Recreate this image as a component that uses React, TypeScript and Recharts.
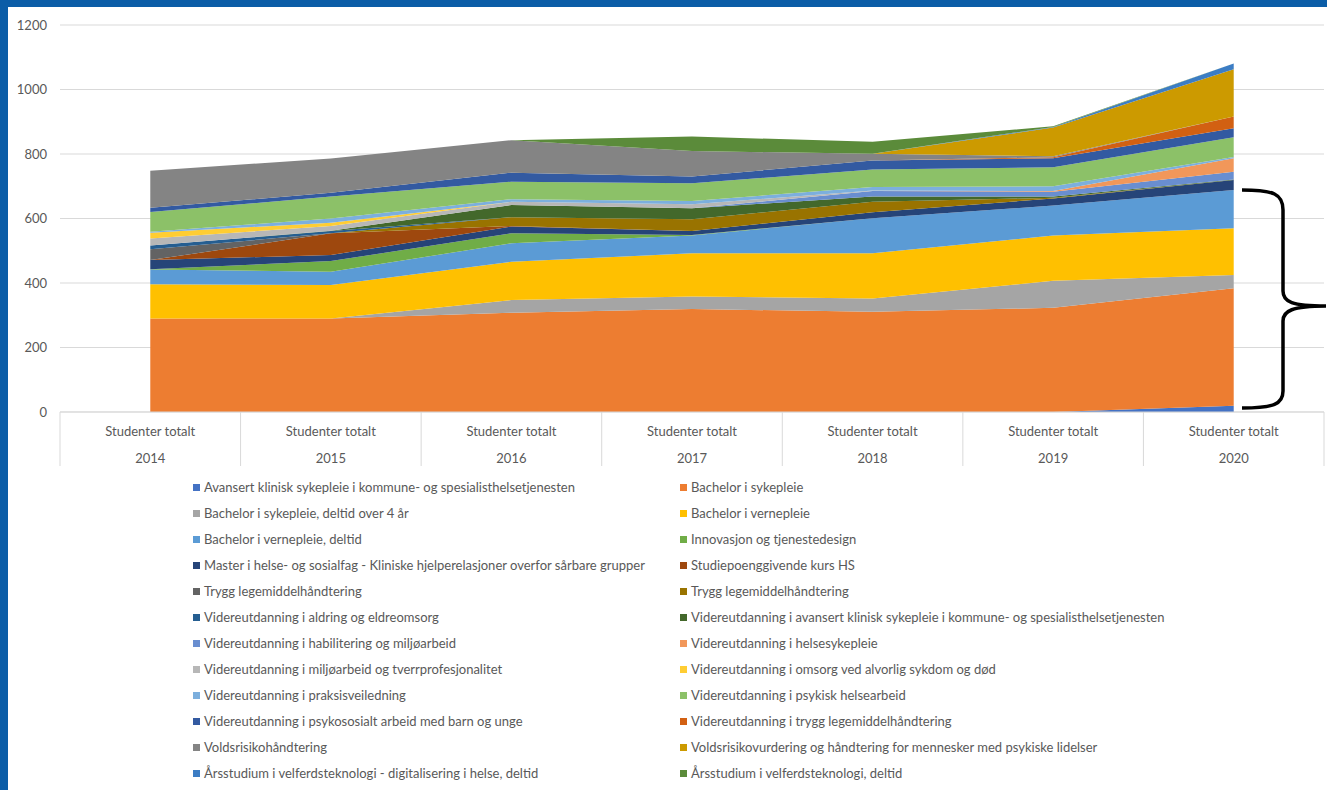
import React from "react";
import { AreaChart, Area, XAxis, YAxis, CartesianGrid, Legend } from "recharts";

const YEARS = ["2014", "2015", "2016", "2017", "2018", "2019", "2020"];
const GROUP_LABEL = "Studenter totalt";
const Y_TICKS = [0, 200, 400, 600, 800, 1000, 1200];

// student counts per programme, 2014..2020
const avansertKlinisk = [0, 0, 0, 0, 0, 0, 19];
const bachelorSykepleie = [290, 290, 308, 319, 311, 323, 365];
const bachelorSykepleieDeltid = [0, 0, 39, 39, 41, 84, 41];
const bachelorVernepleie = [106, 104, 119, 134, 140, 140, 145];
const bachelorVernepleieDeltid = [46, 41, 57, 55, 109, 93, 118];
const innovasjon = [1, 33, 31, 2, 0, 0, 0];
const masterHelseSosial = [28, 19, 21, 12, 18, 22, 31];
const studiepoengKurs = [0, 67, 2, 0, 0, 0, 0];
const tryggLegemiddelA = [34, 0, 0, 0, 0, 0, 0];
const tryggLegemiddelB = [0, 0, 27, 37, 33, 2, 0];
const vuAldring = [11, 7, 0, 0, 0, 0, 0];
const vuAvansertKlinisk = [0, 1, 38, 34, 16, 4, 2];
const vuHabilitering = [0, 0, 0, 0, 17, 15, 24];
const vuHelsesykepleie = [0, 0, 0, 0, 0, 2, 42];
const vuMiljoarbeid = [22, 15, 10, 12, 2, 0, 0];
const vuOmsorg = [18, 10, 0, 0, 0, 0, 0];
const vuPraksis = [3, 13, 8, 10, 11, 15, 4];
const vuPsykisk = [61, 68, 54, 55, 54, 59, 61];
const vuPsykososialt = [13, 12, 28, 21, 28, 28, 28];
const vuTryggLegemiddel = [0, 0, 0, 0, 0, 3, 36];
const voldsrisikoHandtering = [115, 106, 101, 79, 21, 3, 0];
const voldsrisikoVurdering = [0, 0, 0, 0, 0, 89, 147];
const arsstudiumDigital = [0, 0, 0, 0, 0, 2, 18];
const arsstudiumVelferd = [0, 0, 0, 45, 37, 2, 0];

const SERIES_VALUES = [
  avansertKlinisk, bachelorSykepleie, bachelorSykepleieDeltid, bachelorVernepleie,
  bachelorVernepleieDeltid, innovasjon, masterHelseSosial, studiepoengKurs,
  tryggLegemiddelA, tryggLegemiddelB, vuAldring, vuAvansertKlinisk,
  vuHabilitering, vuHelsesykepleie, vuMiljoarbeid, vuOmsorg,
  vuPraksis, vuPsykisk, vuPsykososialt, vuTryggLegemiddel,
  voldsrisikoHandtering, voldsrisikoVurdering, arsstudiumDigital, arsstudiumVelferd,
];

const NAMES = [
  "Avansert klinisk sykepleie i kommune- og spesialisthelsetjenesten",
  "Bachelor i sykepleie",
  "Bachelor i sykepleie, deltid over 4 år",
  "Bachelor i vernepleie",
  "Bachelor i vernepleie, deltid",
  "Innovasjon og tjenestedesign",
  "Master i helse- og sosialfag - Kliniske hjelperelasjoner overfor sårbare grupper",
  "Studiepoenggivende kurs HS",
  "Trygg legemiddelhåndtering",
  "Trygg legemiddelhåndtering",
  "Videreutdanning i aldring og eldreomsorg",
  "Videreutdanning i avansert klinisk sykepleie i kommune- og spesialisthelsetjenesten",
  "Videreutdanning i habilitering og miljøarbeid",
  "Videreutdanning i helsesykepleie",
  "Videreutdanning i miljøarbeid og tverrprofesjonalitet",
  "Videreutdanning i omsorg ved alvorlig sykdom og død",
  "Videreutdanning i praksisveiledning",
  "Videreutdanning i psykisk helsearbeid",
  "Videreutdanning i psykososialt arbeid med barn og unge",
  "Videreutdanning i trygg legemiddelhåndtering",
  "Voldsrisikohåndtering",
  "Voldsrisikovurdering og håndtering for mennesker med psykiske lidelser",
  "Årsstudium i velferdsteknologi - digitalisering i helse, deltid",
  "Årsstudium i velferdsteknologi, deltid",
];

const COLORS = [
  "#4472C4", "#ED7D31", "#A5A5A5", "#FFC000", "#5B9BD5", "#70AD47",
  "#264478", "#9E480E", "#636363", "#997300", "#255E91", "#43682B",
  "#698ED0", "#F1975A", "#B7B7B7", "#FFCD33", "#7CAFDD", "#8CC168",
  "#335AA1", "#D26012", "#848484", "#CC9A00", "#3C7DC4", "#5B8B3A",
];

const data = YEARS.map((year, i) => {
  const row: Record<string, any> = { year };
  SERIES_VALUES.forEach((vals, s) => {
    row["s" + s] = vals[i];
  });
  return row;
});

const FONT = "Lato, 'Open Sans', sans-serif";
const TEXT = "#595959";
const GRID = "#D9D9D9";
const HALF_BAND = 1264 / 7 / 2;

const CategoryTick = (props: any) => {
  const { x, y, index } = props;
  const top = y - 8;
  return (
    <g>
      <line x1={x - HALF_BAND} x2={x - HALF_BAND} y1={top} y2={top + 54} stroke={GRID} />
      {index === YEARS.length - 1 && (
        <line x1={x + HALF_BAND} x2={x + HALF_BAND} y1={top} y2={top + 54} stroke={GRID} />
      )}
      <text x={x} y={top + 19} textAnchor="middle" dominantBaseline="central" fill={TEXT} fontSize={13} fontFamily={FONT}>
        {GROUP_LABEL}
      </text>
      <text x={x} y={top + 46} textAnchor="middle" dominantBaseline="central" fill={TEXT} fontSize={13} fontFamily={FONT}>
        {props.payload.value}
      </text>
    </g>
  );
};

const LEGEND_TOP = 470;

const renderLegend = () => (
  <div style={{ position: "relative", width: 1327, height: 320, fontFamily: FONT, fontSize: 13, color: TEXT }}>
    {NAMES.map((name, i) => {
      const col = i % 2;
      const row = Math.floor(i / 2);
      const cy = 487 + row * 26 - LEGEND_TOP;
      return (
        <div
          key={i}
          style={{ position: "absolute", left: col === 0 ? 193 : 680, top: cy - 9, height: 18, display: "flex", alignItems: "center", whiteSpace: "nowrap" }}
        >
          <span style={{ display: "inline-block", width: 7, height: 7, background: COLORS[i], marginRight: 4 }} />
          <span>{name}</span>
        </div>
      );
    })}
  </div>
);

export default function App() {
  return (
    <div style={{ position: "absolute", left: 0, top: 0, width: 1327, height: 790, background: "#0B5DA7", overflow: "hidden" }}>
      <div style={{ position: "absolute", left: 8, top: 7, right: 0, bottom: 0, background: "#FFFFFF" }} />
      <div style={{ position: "absolute", left: 0, top: 0 }}>
        <AreaChart width={1327} height={790} data={data} margin={{ top: 25, right: 3, left: 8, bottom: 323 }}>
          <CartesianGrid vertical={false} stroke={GRID} />
          <XAxis
            dataKey="year"
            interval={0}
            height={55}
            padding={{ left: HALF_BAND, right: HALF_BAND }}
            axisLine={{ stroke: GRID }}
            tickLine={false}
            tick={<CategoryTick />}
          />
          <YAxis
            width={52}
            domain={[0, 1200]}
            ticks={Y_TICKS}
            axisLine={false}
            tickLine={false}
            tickMargin={7}
            tick={{ fill: TEXT, fontSize: 13, fontFamily: FONT }}
          />
          {NAMES.map((name, i) => (
            <Area
              key={i}
              type="linear"
              dataKey={"s" + i}
              name={name}
              stackId="total"
              stroke="none"
              fill={COLORS[i]}
              fillOpacity={1}
              isAnimationActive={false}
            />
          ))}
          <Legend
            layout="horizontal"
            verticalAlign="middle"
            align="center"
            wrapperStyle={{ left: 0, top: LEGEND_TOP, width: 1327 }}
            content={renderLegend}
          />
        </AreaChart>
      </div>
      <svg width={1327} height={790} style={{ position: "absolute", left: 0, top: 0, pointerEvents: "none" }}>
        <path
          d="M1242,190 C1274,190 1283,194 1283,210 L1283,291 C1283,302 1292,306 1326,306 C1292,306 1283,311 1283,321 L1283,391 C1283,404 1274,408 1242,408"
          fill="none"
          stroke="#000"
          strokeWidth={3.5}
        />
      </svg>
    </div>
  );
}
